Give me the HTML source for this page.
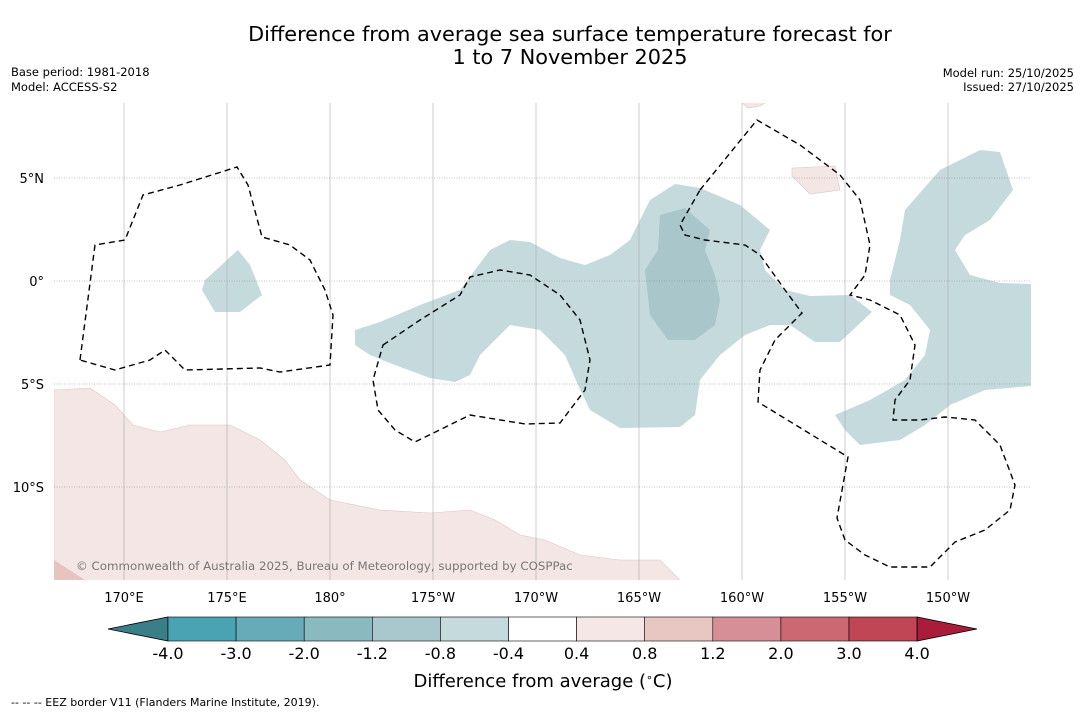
<!DOCTYPE html>
<html><head><meta charset="utf-8"><style>
body{margin:0;background:#fff;width:1085px;height:713px;overflow:hidden;font-family:"DejaVu Sans","Liberation Sans",sans-serif}
svg{display:block}
</style></head><body>
<svg width="1085" height="713" xmlns="http://www.w3.org/2000/svg" font-family="DejaVu Sans, Liberation Sans, sans-serif">
<text x="570" y="41" font-size="20.8" text-anchor="middle">Difference from average sea surface temperature forecast for</text>
<text x="570" y="64" font-size="20.8" text-anchor="middle">1 to 7 November 2025</text>
<text x="11" y="76" font-size="11.5">Base period: 1981-2018</text>
<text x="11" y="91" font-size="11.5">Model: ACCESS-S2</text>
<text x="1074" y="77" font-size="11.5" text-anchor="end">Model run: 25/10/2025</text>
<text x="1074" y="91" font-size="11.5" text-anchor="end">Issued: 27/10/2025</text>

<g>
<clipPath id="mc"><rect x="54" y="103" width="977" height="477"/></clipPath>
<g clip-path="url(#mc)">
<path fill="#f3e6e4" stroke="#d8c8c6" stroke-width="0.6" d="M54,390 L90,388 L115,405 L133,425 L160,432 L190,425 L230,425 L260,440 L285,460 L300,480 L330,500 L380,510 L430,513 L470,510 L495,520 L520,535 L545,540 L580,555 L620,560 L660,560 L682,582 L54,582 Z"/>
<path fill="#e6c4bf" d="M54,560 L88,582 L54,582 Z"/>
<path fill="#f3e6e4" stroke="#d8c8c6" stroke-width="0.6" d="M792,168 L835,166 L840,190 L810,194 L792,176 Z M740,101 L768,101 L760,106 L748,108 Z"/>
<path fill="#c5dadd" d="M355,330 L380,322 L420,305 L460,290 L490,250 L510,240 L530,242 L560,258 L585,265 L610,255 L630,240 L650,200 L675,184 L700,188 L740,205 L770,230 L760,250 L765,270 L785,290 L810,296 L850,295 L872,312 L840,342 L815,342 L790,325 L770,325 L745,335 L720,355 L700,380 L695,415 L680,427 L620,428 L590,410 L578,385 L565,355 L540,330 L510,325 L480,355 L470,375 L455,382 L430,378 L395,365 L370,355 L355,345 Z"/>
<path fill="#c5dadd" d="M890,280 L900,240 L905,210 L940,170 L980,150 L1000,152 L1013,190 L990,220 L965,235 L955,250 L970,275 L1000,283 L1031,284 L1031,386 L985,390 L950,405 L925,425 L900,440 L860,445 L845,430 L835,415 L870,400 L905,380 L925,355 L930,330 L910,305 L890,295 Z"/>
<path fill="#c5dadd" d="M205,280 L238,250 L250,265 L262,295 L240,312 L215,312 L202,290 Z"/>
<path fill="#a9c6cb" d="M660,215 L685,208 L710,230 L705,250 L715,275 L720,300 L715,325 L695,340 L668,340 L650,315 L645,270 L658,250 Z"/>
</g>
<g id="grid" stroke="#aaa" stroke-width="0.6" fill="none"></g>
<g fill="none" stroke="#000" stroke-width="1.4" stroke-dasharray="6,4">
<path d="M80,360 L95,245 L125,240 L143,195 L180,185 L237,167 L248,185 L262,237 L290,245 L310,260 L325,290 L333,315 L330,365 L280,372 L260,368 L185,370 L165,350 L150,360 L115,370 Z"/>
<path d="M383,345 L420,320 L460,295 L470,277 L500,270 L530,275 L560,295 L580,320 L590,360 L585,390 L560,423 L525,424 L470,415 L415,442 L395,430 L378,410 L373,380 Z"/>
<path d="M700,190 L757,120 L800,145 L840,175 L860,200 L870,245 L865,275 L850,295 L870,300 L900,315 L915,345 L910,380 L895,400 L893,420 L920,420 L945,417 L975,420 L1000,445 L1015,485 L1010,510 L985,530 L955,542 L930,567 L890,567 L865,555 L845,540 L837,518 L848,457 L758,402 L760,370 L775,340 L802,313 L785,290 L760,255 L745,245 L705,240 L685,235 L680,225 Z"/>
</g>
<text x="76" y="570" font-size="11.8" fill="#777">© Commonwealth of Australia 2025, Bureau of Meteorology, supported by COSPPac</text>
</g>
<g id="ticks" font-size="13"></g>
<g id="cbar"></g>
<text x="543" y="687" font-size="18" text-anchor="middle">Difference from average (<tspan baseline-shift="super" font-size="11">∘</tspan>C)</text>
<text x="11" y="706" font-size="11">--  --  -- EEZ border V11 (Flanders Marine Institute, 2019).</text>
</svg>
<script>
const lonTicks=["170°E","175°E","180°","175°W","170°W","165°W","160°W","155°W","150°W"];
const lonVals=[170,175,180,185,190,195,200,205,210];
const latTicks=["5°N","0°","5°S","10°S"];
const latVals=[5,0,-5,-10];
const levels=["-4.0","-3.0","-2.0","-1.2","-0.8","-0.4","0.4","0.8","1.2","2.0","3.0","4.0"];
const binColors=["#49a3b3","#67abb9","#8bb9c0","#a9c8cd","#c5dadd","#ffffff","#f4e7e5","#e8c6c1","#d68f96","#cb6871","#c04555"];
const underColor="#3a7f87", overColor="#a91d3b";
const NS="http://www.w3.org/2000/svg";
const xLon=l=>124+(l-170)*20.6;
const yLat=l=>281-l*20.6;
const grid=document.getElementById('grid'), ticks=document.getElementById('ticks');
function mk(t,a,p){const e=document.createElementNS(NS,t);for(const k in a)e.setAttribute(k,a[k]);p.appendChild(e);return e;}
lonVals.forEach((v,i)=>{const x=xLon(v);
 const l=mk('line',{x1:x,x2:x,y1:103,y2:580},grid);
 
 
 const t=mk('text',{x:x,y:602,'text-anchor':'middle'},ticks);t.textContent=lonTicks[i];
 
 });
latVals.forEach((v,i)=>{const y=yLat(v);
 const l=mk('line',{x1:54,x2:1031,y1:y,y2:y,'stroke-dasharray':'1,1.5',stroke:'#888'},grid);
 
 
 const t=mk('text',{x:44,y:y+5,'text-anchor':'end'},ticks);t.textContent=latTicks[i];
 
 });
const cb=document.getElementById('cbar');const x0=168,w=68.1,y0=617,h=24;
const n=binColors.length;
const u=mk('polygon',{points:`${x0},${y0} ${x0},${y0+h} 108,${y0+h/2}`,fill:underColor,stroke:'#000','stroke-width':0.8},cb);


binColors.forEach((c,i)=>{const r=mk('rect',{x:x0+i*w,y:y0,width:w,height:h,fill:c,stroke:'#000','stroke-width':0.6},cb);
 
 });
const xe=x0+n*w;
const o=mk('polygon',{points:`${xe},${y0} ${xe},${y0+h} 977,${y0+h/2}`,fill:overColor,stroke:'#000','stroke-width':0.8},cb);


levels.forEach((lv,i)=>{const t=mk('text',{x:x0+i*w,y:659,'font-size':16,'text-anchor':'middle'},cb);t.textContent=lv;
 
 });
</script>
</body></html>
